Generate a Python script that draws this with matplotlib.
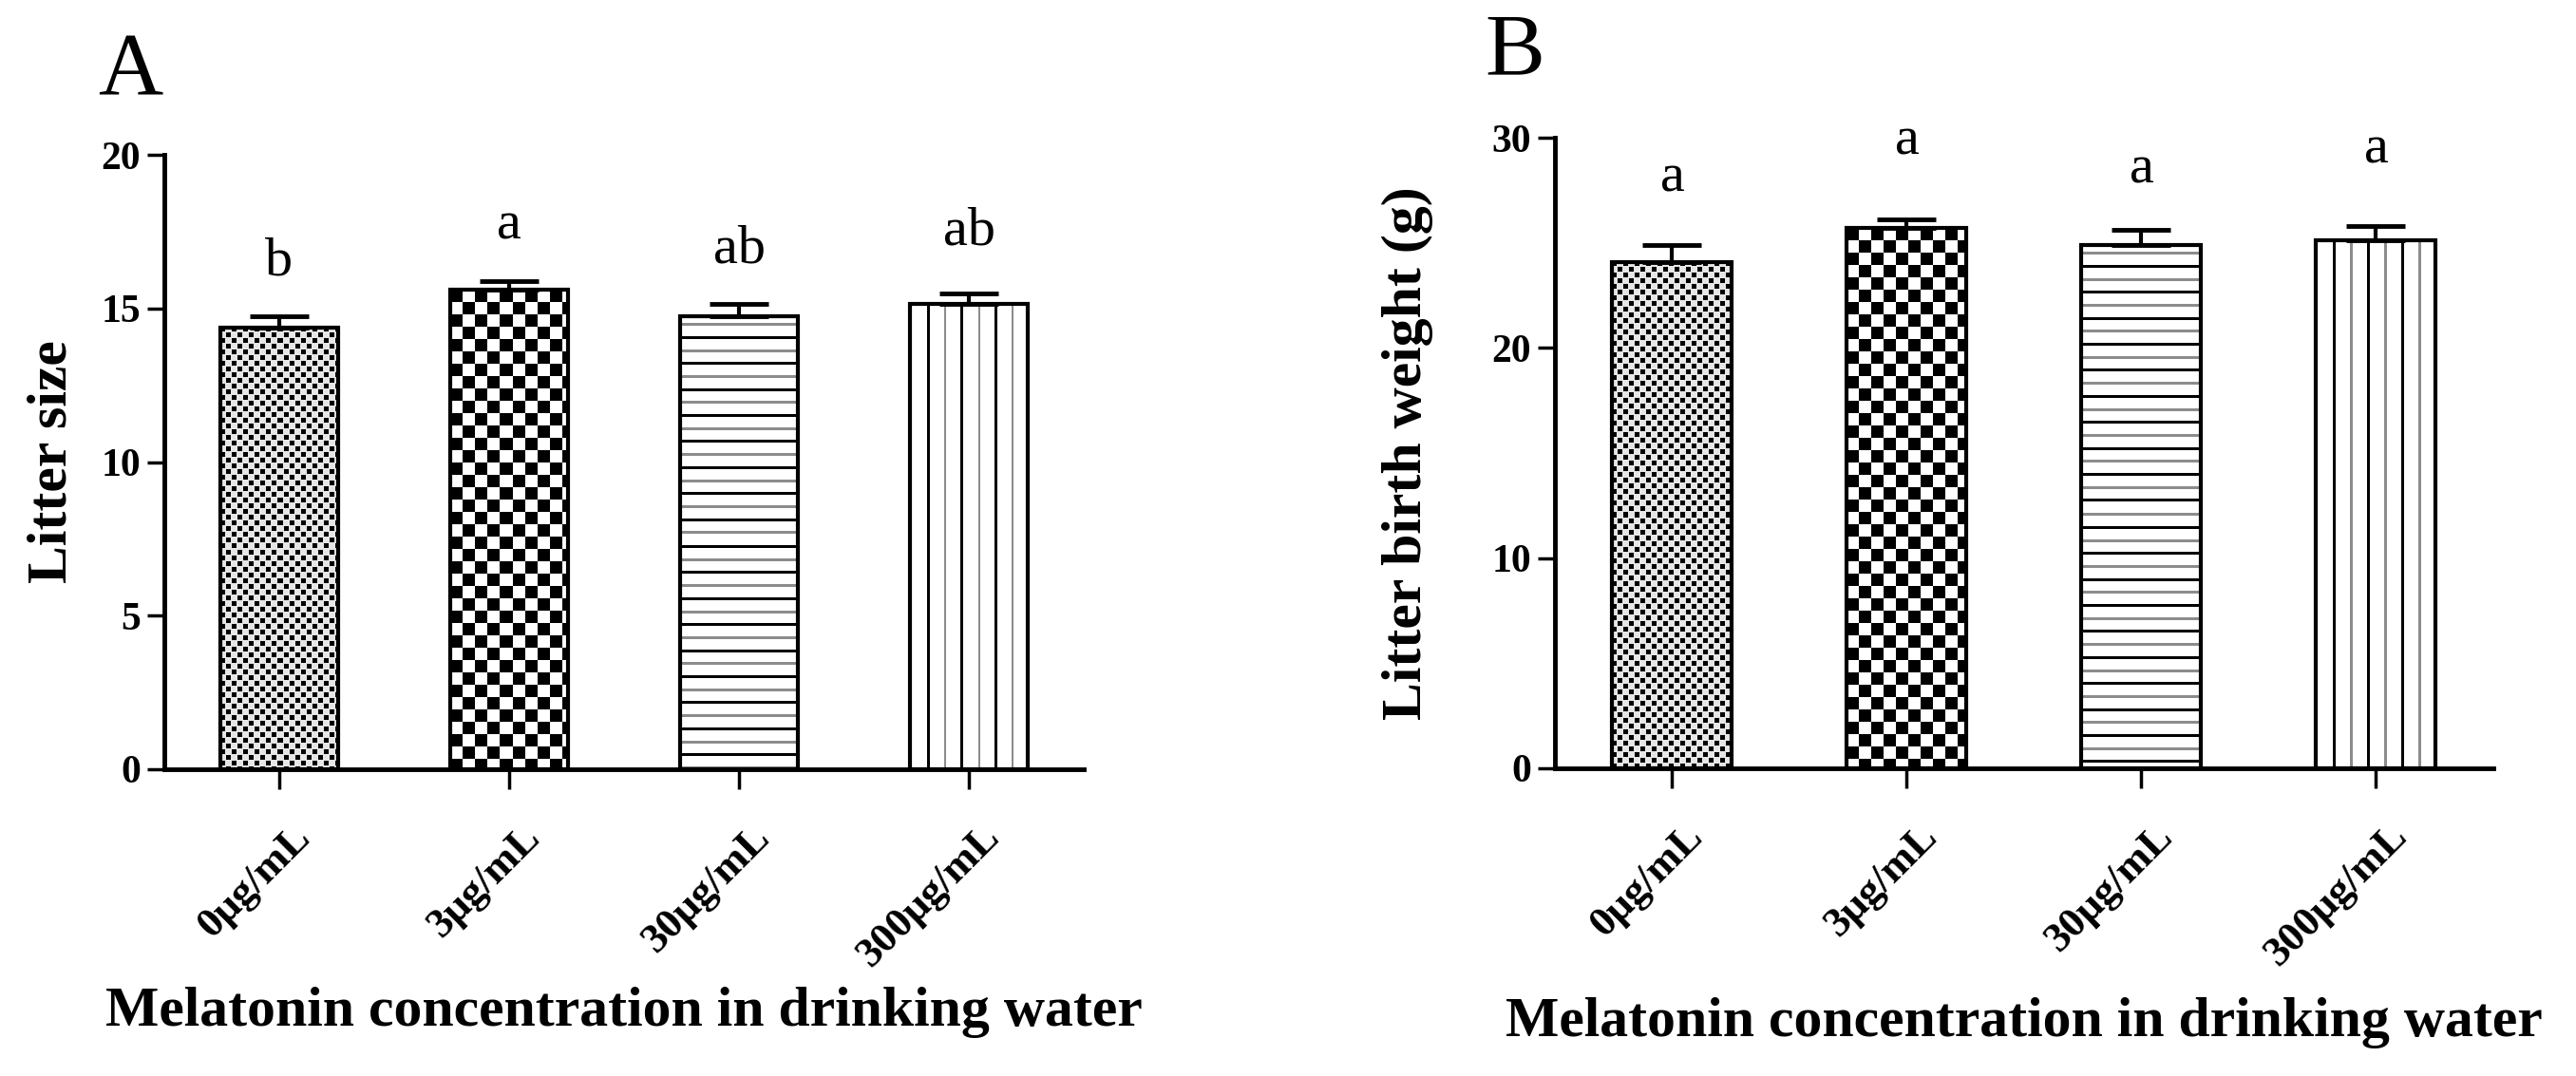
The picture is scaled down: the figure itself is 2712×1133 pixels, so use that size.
import numpy as np
import matplotlib
matplotlib.use("Agg")
from matplotlib import pyplot as plt
from matplotlib.transforms import ScaledTranslation

plt.rcParams['font.family'] = ['Liberation Serif', 'DejaVu Serif']

# data
groups = ['0μg/mL', '3μg/mL', '30μg/mL', '300μg/mL']
litter_size = [14.38, 15.6, 14.75, 15.16]
litter_size_sem = [0.37, 0.3, 0.41, 0.34]
litter_size_letters = ['b', 'a', 'ab', 'ab']
litter_size_letter_y = [16.09, 17.27, 16.49, 17.08]

birth_weight = [24.1, 25.7, 24.9, 25.1]
birth_weight_sem = [0.8, 0.4, 0.7, 0.7]
birth_weight_letters = ['a', 'a', 'a', 'a']
birth_weight_letter_y = [27.47, 29.23, 27.87, 28.82]

# fill style of each bar
fills = ['fine', 'checker', 'hlines', 'vlines']


def pattern(kind, h, w):
    """Build a grey-level fill (1 = white, 0 = black) of h x w pixels."""
    i, j = np.indices((h, w))
    img = np.ones((h, w))
    if kind == 'fine':
        c = 6
        img[:] = 0.9
        on = ((i // c + j // c) % 2 == 0) & (i % c < 5) & (j % c < 5)
        img[on] = 0.0
    elif kind == 'checker':
        c = 13
        img[((i // c + j // c) % 2 == 0)] = 0.0
    elif kind == 'hlines':
        step = 13.7
        k = np.floor((i + 6) / step).astype(int)
        on = ((i + 6) % step) < 3
        img[on & (k % 2 == 0)] = 0.0
        img[on & (k % 2 == 1)] = 0.55
    elif kind == 'vlines':
        step = w / 7.0
        k = np.floor(j / step).astype(int)
        on = (j % step) < 2.5
        on &= j > 3
        img[on & (k % 2 == 0)] = 0.55
        img[on & (k % 2 == 1)] = 0.0
    return img


def panel(ax, values, sem, letters, letter_y, ymax, ystep, ylabel, ylabel_x, xlabel_y):
    x = np.arange(len(values))
    ax.set_xlim(-0.5, len(values) - 0.5)
    ax.set_ylim(0, ymax)
    bars = ax.bar(x, values, width=0.51, facecolor='none', edgecolor='black',
                  linewidth=3, zorder=3)
    ax.errorbar(x, values, yerr=[np.zeros(len(sem)), sem], fmt='none',
                ecolor='black', elinewidth=3, capsize=22, capthick=3.5, zorder=4)

    # fill every bar with its pattern, sized in screen pixels
    for patch, kind in zip(bars, fills):
        x0 = patch.get_x()
        x1 = x0 + patch.get_width()
        hgt = patch.get_height()
        p0 = ax.transData.transform((x0, 0))
        p1 = ax.transData.transform((x1, hgt))
        w_px = int(round(p1[0] - p0[0]))
        h_px = int(round(p1[1] - p0[1]))
        ax.imshow(pattern(kind, h_px, w_px), cmap='gray', vmin=0, vmax=1,
                  extent=(x0, x1, 0, hgt), aspect='auto',
                  interpolation='nearest', zorder=2)
    ax.set_xlim(-0.5, len(values) - 0.5)
    ax.set_ylim(0, ymax)

    for xi, lab, ly in zip(x, letters, letter_y):
        ax.text(xi, ly, lab, ha='center', va='baseline', fontsize=42)

    for side in ['top', 'right']:
        ax.spines[side].set_visible(False)
    for side in ['left', 'bottom']:
        ax.spines[side].set_linewidth(3.5)

    ax.set_yticks(np.arange(0, ymax + 0.1, ystep))
    ax.tick_params(axis='y', direction='out', length=13, width=2.5,
                   labelsize=30, pad=5)
    ax.tick_params(axis='x', direction='out', length=15, width=2.5, pad=22)
    ax.set_xticks(x)
    ax.set_xticklabels(groups, rotation=45, ha='right', va='top',
                       rotation_mode='anchor', fontsize=32, fontweight='bold')
    shift = ScaledTranslation(0.12, 0, ax.figure.dpi_scale_trans)
    for lbl in ax.get_xticklabels():
        lbl.set_transform(lbl.get_transform() + shift)
    for lbl in ax.get_yticklabels():
        lbl.set_fontweight('bold')

    ax.set_ylabel(ylabel, fontsize=43, fontweight='bold')
    ax.yaxis.set_label_coords(ylabel_x, 0.5)
    ax.set_xlabel('Melatonin concentration in drinking water', fontsize=43,
                  fontweight='bold')
    ax.xaxis.label.set_verticalalignment('baseline')
    ax.xaxis.set_label_coords(0.5, xlabel_y)


figure = plt.figure(figsize=(27.12, 11.33), dpi=100)

axes1 = figure.add_axes([0.0638, 0.2851, 0.357, 0.571])
panel(axes1, litter_size, litter_size_sem, litter_size_letters,
      litter_size_letter_y, 20, 5, 'Litter size', -0.094, -0.417)

axes2 = figure.add_axes([0.6036, 0.286, 0.3643, 0.586])
panel(axes2, birth_weight, birth_weight_sem, birth_weight_letters,
      birth_weight_letter_y, 30, 10, 'Litter birth weight (g)', -0.130, -0.425)

figure.text(103 / 2712, 1 - 100 / 1133, 'A', fontsize=68, va='baseline')
figure.text(1563 / 2712, 1 - 78 / 1133, 'B', fontsize=68, va='baseline')

figure.savefig('out.png', dpi=100)
